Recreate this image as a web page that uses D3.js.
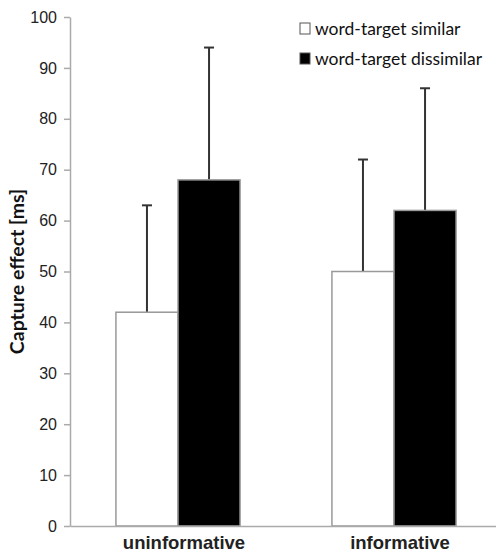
<!DOCTYPE html>
<html>
<head>
<meta charset="utf-8">
<script src="https://cdn.jsdelivr.net/npm/d3@7"></script>
<style>
  body { margin: 0; background: #fff; }
  svg { display: block; font-family: Lato, "Open Sans", sans-serif; }
  .tick text { fill: #222; }
</style>
</head>
<body>
<svg id="chart" width="496" height="553"></svg>
<script>
// Data
const categories = ['uninformative', 'informative'];
const seriesNames = ['word-target similar', 'word-target dissimilar'];
const similarMeans = [42, 50];
const similarErrTop = [63, 72];
const dissimilarMeans = [68, 62];
const dissimilarErrTop = [94, 86];
const yTicks = [0, 10, 20, 30, 40, 50, 60, 70, 80, 90, 100];

const fills = ['#ffffff', '#000000'];

const svg = d3.select('#chart');

// plot area
let LEFT = 70, RIGHT = 502, TOP = 17, BOTTOM = 526;

let xScale = d3.scaleBand()
    .domain(categories)
    .range([LEFT, RIGHT]);

let subScale = d3.scaleBand()
    .domain(seriesNames)
    .range([0, xScale.bandwidth()])
    .paddingInner(0)
    .paddingOuter(0.74);

let yScale = d3.scaleLinear()
    .domain([0, 100])
    .range([BOTTOM, TOP]);

// build rows for the bars
let rows = [];
categories.forEach((c, i) => {
    rows.push({cat: c, series: seriesNames[0], value: similarMeans[i], err: similarErrTop[i], fill: fills[0]});
    rows.push({cat: c, series: seriesNames[1], value: dissimilarMeans[i], err: dissimilarErrTop[i], fill: fills[1]});
});

// error bars first so bars sit over the lower part
let errG = svg.append('g');
errG.selectAll('line.stem')
    .data(rows)
    .join('line')
    .attr('x1', d => xScale(d.cat) + subScale(d.series) + subScale.bandwidth() / 2)
    .attr('x2', d => xScale(d.cat) + subScale(d.series) + subScale.bandwidth() / 2)
    .attr('y1', d => yScale(d.value))
    .attr('y2', d => yScale(d.err))
    .attr('stroke', '#333')
    .attr('stroke-width', 2);

errG.selectAll('line.cap')
    .data(rows)
    .join('line')
    .attr('x1', d => xScale(d.cat) + subScale(d.series) + subScale.bandwidth() / 2 - 5)
    .attr('x2', d => xScale(d.cat) + subScale(d.series) + subScale.bandwidth() / 2 + 5)
    .attr('y1', d => yScale(d.err))
    .attr('y2', d => yScale(d.err))
    .attr('stroke', '#333')
    .attr('stroke-width', 2);

// bars
svg.append('g')
    .selectAll('rect')
    .data(rows)
    .join('rect')
    .attr('x', d => xScale(d.cat) + subScale(d.series))
    .attr('y', d => yScale(d.value))
    .attr('width', subScale.bandwidth())
    .attr('height', d => yScale(0) - yScale(d.value))
    .attr('fill', d => d.fill)
    .attr('stroke', '#999')
    .attr('stroke-width', 1.5);

// y axis
let yAxis = svg.append('g')
    .attr('transform', `translate(${LEFT},0)`)
    .call(d3.axisLeft(yScale).tickValues(yTicks).tickSize(6).tickPadding(7).tickSizeOuter(0));
yAxis.select('.domain').attr('stroke', '#aaa').attr('stroke-width', 1.5);
yAxis.selectAll('.tick line').attr('stroke', '#aaa').attr('stroke-width', 1.5);
yAxis.selectAll('.tick text').attr('font-size', 16);

// x axis
let xAxis = svg.append('g')
    .attr('transform', `translate(0,${BOTTOM})`)
    .call(d3.axisBottom(xScale).tickSize(0).tickPadding(10).tickSizeOuter(0));
xAxis.select('.domain').attr('stroke', '#aaa').attr('stroke-width', 1.5);
xAxis.selectAll('.tick text')
    .attr('font-size', 18.5)
    .attr('font-weight', 'bold')
    .attr('dx', 6)
    .attr('fill', '#111');

// y axis title
svg.append('text')
    .attr('transform', `translate(24,${(TOP + BOTTOM) / 2}) rotate(-90)`)
    .attr('text-anchor', 'middle')
    .attr('font-size', 19.5)
    .attr('font-weight', 'bold')
    .attr('fill', '#111')
    .text('Capture effect [ms]');

// legend
let legend = svg.append('g')
    .attr('transform', 'translate(300,23)');
let items = legend.selectAll('g')
    .data(seriesNames)
    .join('g')
    .attr('transform', (d, i) => `translate(0,${i * 30})`);
items.append('rect')
    .attr('x', 0).attr('y', 0)
    .attr('width', 10).attr('height', 11)
    .attr('fill', (d, i) => fills[i])
    .attr('stroke', '#555')
    .attr('stroke-width', 1);
items.append('text')
    .attr('x', 15).attr('y', 12)
    .attr('font-size', 17.5)
    .attr('fill', '#111')
    .text(d => d);
</script>
</body>
</html>
